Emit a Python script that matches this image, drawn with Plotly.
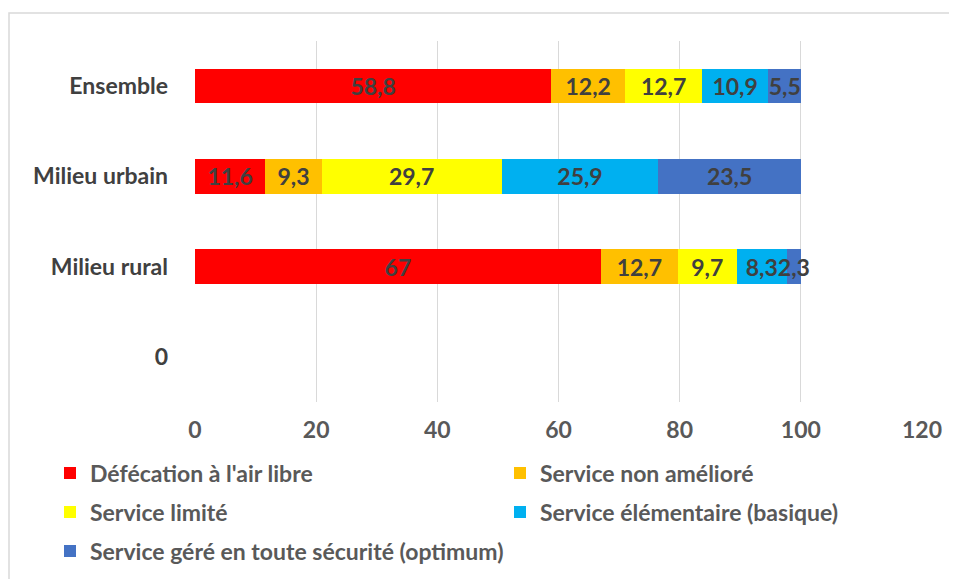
import plotly.graph_objects as go

categories = ["0", "Milieu rural", "Milieu urbain", "Ensemble"]
series_names = [
    "Défécation à l'air libre",
    "Service non amélioré",
    "Service limité",
    "Service élémentaire (basique)",
    "Service géré en toute sécurité (optimum)",
]
# values per series for [0, Milieu rural, Milieu urbain, Ensemble]
defecation = [None, 67, 11.6, 58.8]
non_ameliore = [None, 12.7, 9.3, 12.2]
limite = [None, 9.7, 29.7, 12.7]
elementaire = [None, 8.3, 25.9, 10.9]
gere = [None, 2.3, 23.5, 5.5]
series_values = [defecation, non_ameliore, limite, elementaire, gere]
colors = ["#FF0000", "#FFC000", "#FFFF00", "#00B0F0", "#4472C4"]
legend_ids = ["legend", "legend2", "legend3", "legend4", "legend5"]
x_ticks = [0, 20, 40, 60, 80, 100, 120]

FONT = "Lato, 'Open Sans', sans-serif"
FS = 23

def fmt(v):
    return "" if v is None else f"{v:g}".replace(".", ",")

fig = go.Figure()
for name, vals, col, lg in zip(series_names, series_values, colors, legend_ids):
    fig.add_trace(go.Bar(
        y=categories, x=vals, name=name, orientation="h",
        marker=dict(color=col, line=dict(width=0)),
        text=[fmt(v) for v in vals], textposition="inside",
        insidetextanchor="middle", textangle=0,
        textfont=dict(family=FONT, size=FS, color="#404040", weight="bold"),
        legend=lg, showlegend=True,
    ))

# page has an 8px body margin; figure coords = page coords - 8
OFF = 8
W, H = 949, 571
L, R, T, B = 187, 35, 33, 177
pw, ph = W - L - R, H - T - B

def px2x(p):
    return (p - OFF - L) / pw

def py2y(p):
    return (T + ph - (p - OFF)) / ph

def cx(p):
    return (p - OFF) / W

def cy(p):
    return 1 - (p - OFF) / H

leg_common = dict(orientation="h", xanchor="left", yanchor="middle",
                  xref="container", yref="container",
                  font=dict(family=FONT, size=FS, color="#595959", weight="bold"),
                  bgcolor="rgba(0,0,0,0)", itemclick=False, itemdoubleclick=False)

leg_pos = {
    "legend": (50, 473),
    "legend2": (500, 473),
    "legend3": (50, 512),
    "legend4": (500, 512),
    "legend5": (50, 551),
}

layout_legends = {k: dict(x=cx(x), y=cy(y), **leg_common) for k, (x, y) in leg_pos.items()}

fig.update_layout(
    width=W, height=H,
    margin=dict(l=L, r=R, t=T, b=B, autoexpand=False),
    paper_bgcolor="white", plot_bgcolor="white",
    barmode="stack", bargap=0.62,
    showlegend=True,
    uniformtext=dict(minsize=FS, mode="show"),
    font=dict(family=FONT, size=FS, color="#595959", weight="bold"),
    xaxis=dict(range=[0, 120], tickvals=x_ticks, showgrid=True, gridcolor="#D9D9D9",
               gridwidth=1, zeroline=False, showline=False, ticks="",
               ticklabelstandoff=12,
               tickfont=dict(family=FONT, size=FS, color="#595959", weight="bold")),
    yaxis=dict(categoryorder="array", categoryarray=categories, type="category",
               showgrid=False, zeroline=False, showline=False, ticks="",
               ticklabelstandoff=26,
               tickfont=dict(family=FONT, size=FS, color="#404040", weight="bold")),
    shapes=[dict(type="rect", xref="paper", yref="paper",
                 x0=px2x(9), x1=px2x(975), y0=py2y(600), y1=py2y(13),
                 line=dict(color="#D9D9D9", width=1.5), fillcolor="rgba(0,0,0,0)",
                 layer="below")],
    **layout_legends,
)

fig.write_html("out.html")
